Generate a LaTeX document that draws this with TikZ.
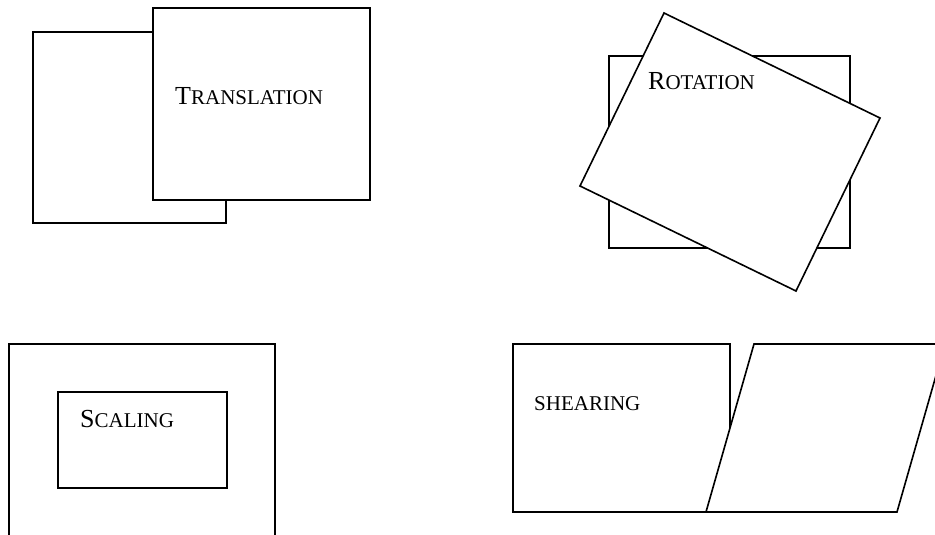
\documentclass[tikz,border=0pt]{standalone}
\usepackage{fontspec}
\setmainfont{Liberation Serif}
\newcommand\capsc[2]{{\fontsize{26}{30}\selectfont #1}{\fontsize{21}{25}\selectfont #2}}
\newcommand\allsc[1]{{\fontsize{21}{25}\selectfont #1}}
\begin{document}
\begin{tikzpicture}[x=1pt,y=-1pt,
  fig/.style={draw=black, line width=1.6pt, fill=white, line join=miter},
  lbl/.style={anchor=base west, inner sep=0pt}]
\clip (0,0) rectangle (935,535);
\fill[white] (0,0) rectangle (935,535);
% Translation
\draw[fig, line width=2.4pt] (33,32) rectangle (226,223);
\draw[fig, line width=2pt] (153,8) rectangle (370,200);
\node[lbl] (translation) at (175,105) {\capsc{T}{RANSLATION}};
% Rotation
\draw[fig] (609,56) rectangle (850,248);
\draw[fig] (664,13) -- (880,118) -- (796,291) -- (580,186) -- cycle;
\node[lbl] (rotation) at (648,90) {\capsc{R}{OTATION}};
% Scaling
\draw[fig] (9,344) rectangle (275,570);
\draw[fig] (58,392) rectangle (227,488);
\node[lbl] (scaling) at (80,427) {\capsc{S}{CALING}};
% Shearing
\draw[fig] (513,344) rectangle (730,512);
\draw[fig] (706,512) -- (897,512) -- (945,344) -- (754,344) -- cycle;
\node[lbl] (shearing) at (534,410) {\allsc{SHEARING}};
\end{tikzpicture}
\end{document}
